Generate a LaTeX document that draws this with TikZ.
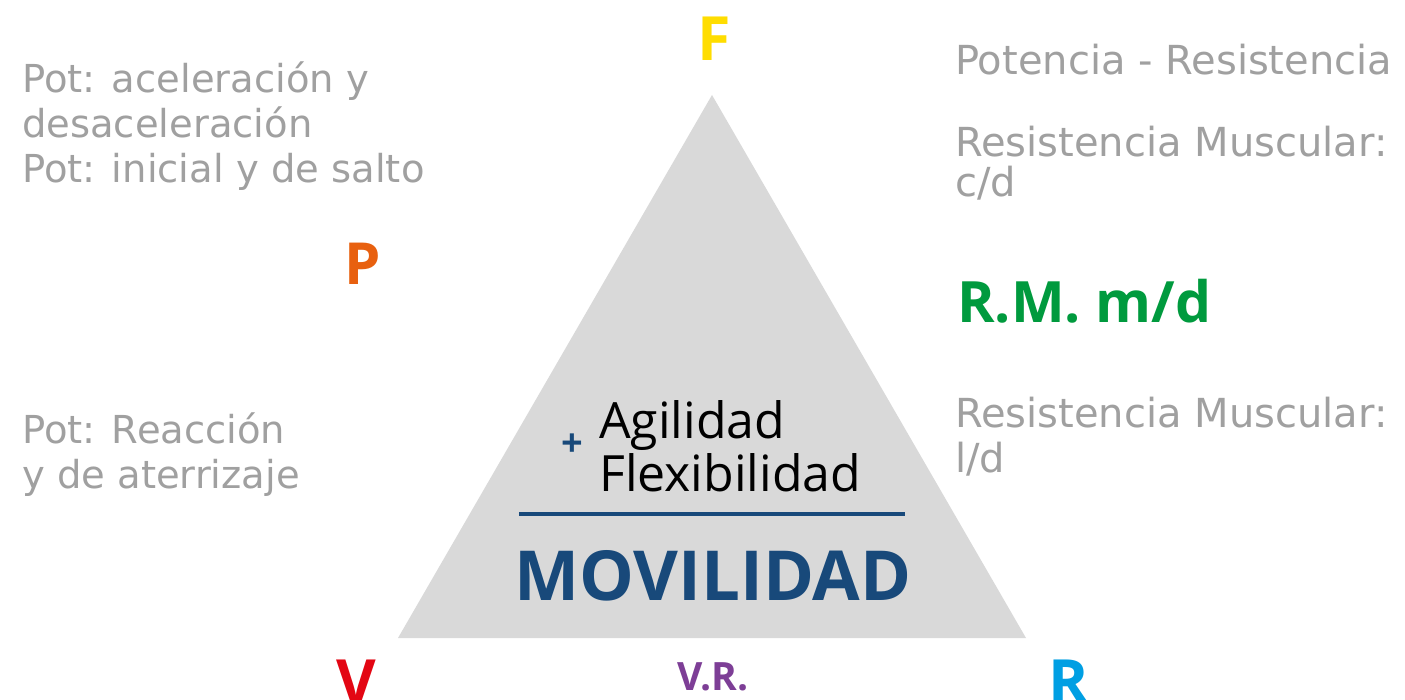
\documentclass[tikz,border=0pt]{standalone}
\usepackage{fontspec}
\setmainfont{Open Sans}
\newfontfamily\graytf{DejaVu Sans}
\definecolor{txtgray}{HTML}{A0A0A0}
\definecolor{trigray}{HTML}{D9D9D9}
\definecolor{navy}{HTML}{18497A}
\definecolor{fyellow}{HTML}{FFDD00}
\definecolor{porange}{HTML}{E8600F}
\definecolor{vred}{HTML}{E30613}
\definecolor{vrpurple}{HTML}{7D3E96}
\definecolor{rcyan}{HTML}{009FE3}
\definecolor{rmgreen}{HTML}{009A3E}
\tikzset{
  lbl/.style={inner sep=0pt, anchor=base west},
  ctr/.style={inner sep=0pt, anchor=base},
  graytxt/.style={lbl, text=txtgray, font=\graytf\fontsize{38.5}{42}\selectfont},
  graytxtr/.style={lbl, text=txtgray, font=\graytf\fontsize{40}{42}\selectfont},
  corner/.style={ctr, font=\bfseries\fontsize{61}{61}\selectfont},
}
\begin{document}
\begin{tikzpicture}[x=1pt,y=-1pt]
\useasboundingbox (0,0) rectangle (1405,700);
\fill[white] (0,0) rectangle (1405,700);
% triangle
\coordinate (apex) at (712,95);
\coordinate (bl) at (398,638);
\coordinate (br) at (1026,638);
\fill[trigray] (apex) -- (br) -- (bl) -- cycle;
% divider
\coordinate (l1) at (519,514);
\coordinate (l2) at (905,514);
\draw[navy, line width=3.5pt] (l1) -- (l2);
% inner texts
\node[lbl, font=\fontsize{50}{50}\selectfont] (agil) at (599,438) {Agilidad};
\node[lbl, font=\fontsize{50}{50}\selectfont] (flex) at (599,491) {Flexibilidad};
\node[inner sep=0pt, text=navy, font=\bfseries\fontsize{38}{38}\selectfont] (plus) at (572,445) {+};
\node[ctr, text=navy, font=\bfseries\fontsize{69}{69}\selectfont] (mov) at (713,600) {MOVILIDAD};
% corners
\node[corner, text=fyellow] (F) at (714,61) {F};
\node[corner, text=porange, font=\bfseries\fontsize{58}{58}\selectfont] (P) at (363,285) {P};
\node[corner, text=vred] (V) at (356,703) {V};
\node[corner, text=rcyan] (R) at (1069,703) {R};
\node[ctr, text=vrpurple, font=\bfseries\fontsize{39}{39}\selectfont] (VR) at (713,690) {V.R.};
% left texts
\node[graytxt] (t1) at (22,93) {Pot: aceleración y};
\node[graytxt] (t2) at (22,138) {desaceleración};
\node[graytxt] (t3) at (22,183) {Pot: inicial y de salto};
\node[graytxt] (t4) at (22,443) {Pot: Reacción};
\node[graytxt] (t5) at (22,488) {y de aterrizaje};
% right texts
\node[graytxtr] (r1) at (955,75) {Potencia - Resistencia};
\node[graytxtr] (r2) at (955,157) {Resistencia Muscular:};
\node[graytxtr] (r3) at (955,197) {c/d};
\node[lbl, text=rmgreen, font=\bfseries\fontsize{57}{57}\selectfont] (rm) at (957,323) {R.M. m/d};
\node[graytxtr] (r4) at (955,427) {Resistencia Muscular:};
\node[graytxtr] (r5) at (955,472) {l/d};
\end{tikzpicture}
\end{document}
